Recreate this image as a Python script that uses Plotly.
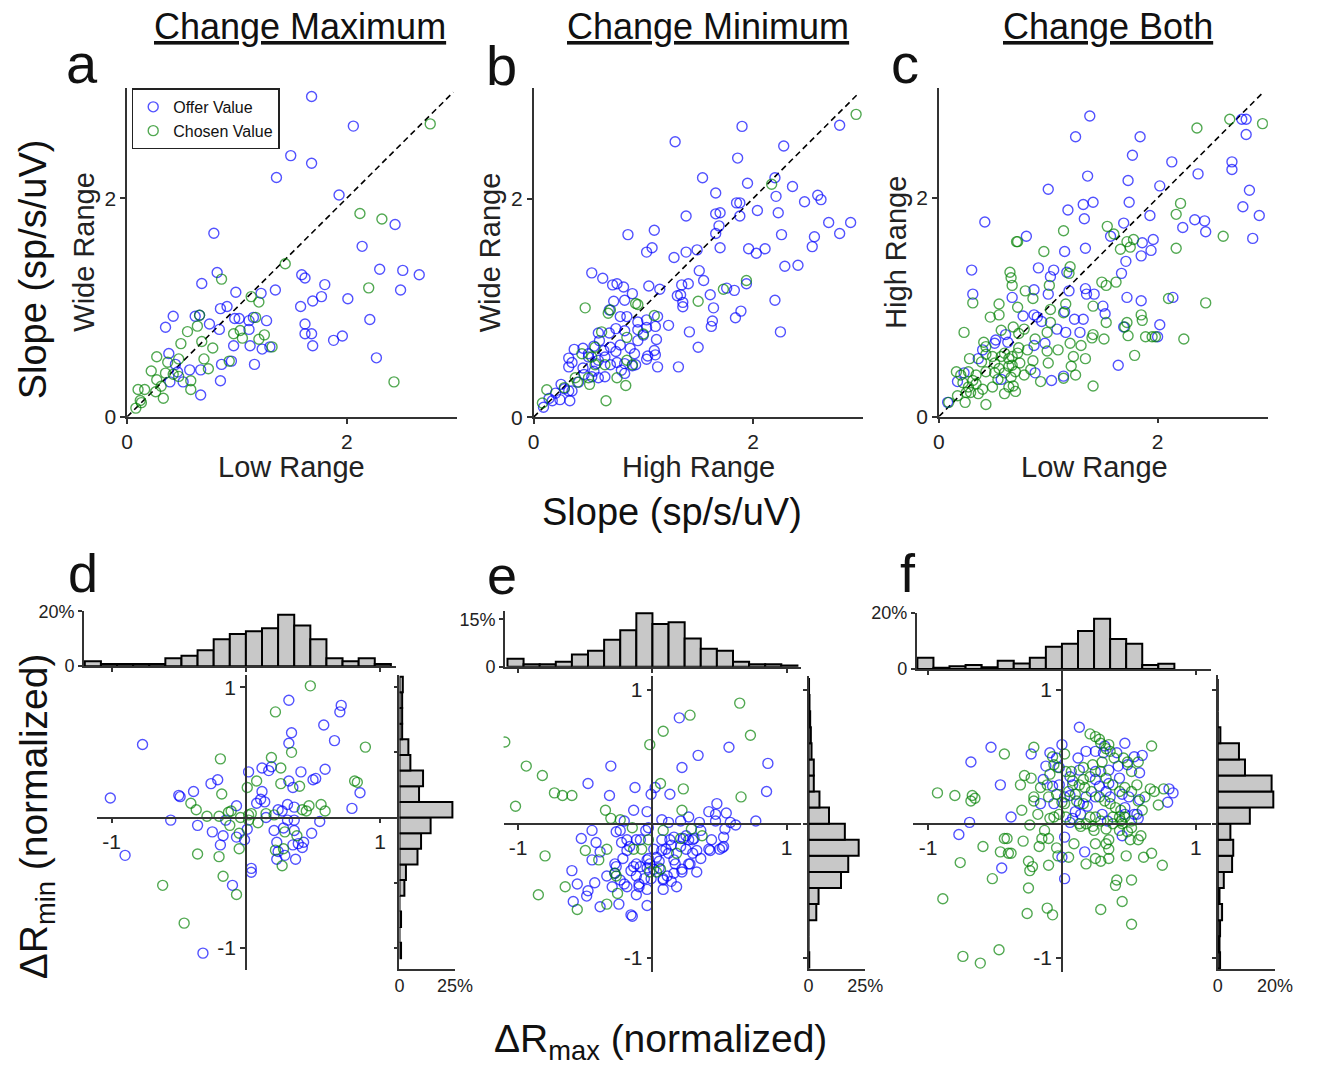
import plotly.graph_objects as go

# ---------------- DATA ----------------
# Panel a: Change Maximum (Low Range vs Wide Range)
a_offer_x = [1.68,2.06,1.49,1.68,1.36,1.93,2.44,2.14,0.79,2.30,2.51,2.66,1.59,1.62,1.80,1.35,2.49,1.77,1.69,2.01,
             1.58,2.21,1.62,1.62,1.68,1.69,1.88,1.96,2.27,0.82,0.68,0.99,1.22,0.91,0.85,0.42,0.62,0.66,0.98,1.02,
             1.15,1.11,1.27,0.75,0.84,1.11,0.35,0.97,1.12,1.23,1.30,0.38,0.44,0.57,0.67,0.86,0.95,1.16,0.39,0.51,
             0.85,0.67,0.46]
a_offer_y = [2.93,2.66,2.39,2.32,2.19,2.03,1.76,1.56,1.68,1.35,1.34,1.30,1.30,1.27,1.21,1.16,1.16,1.10,1.06,1.08,
             1.01,0.89,0.85,0.76,0.76,0.65,0.70,0.74,0.54,1.32,1.22,1.14,1.13,1.01,0.99,0.92,0.92,0.93,0.90,0.90,
             0.91,0.88,0.88,0.85,0.80,0.80,0.82,0.65,0.65,0.62,0.64,0.58,0.48,0.43,0.43,0.48,0.51,0.48,0.32,0.32,
             0.33,0.20,0.41]
a_chosen_x = [2.76,2.12,2.32,1.44,0.86,2.20,1.13,1.20,1.17,0.66,0.64,0.55,0.97,1.03,1.25,1.05,1.20,1.32,0.68,0.49,
              0.78,0.27,0.47,0.70,0.37,0.22,0.35,0.74,0.93,0.27,0.47,0.58,0.58,0.10,0.16,0.26,0.33,0.12,0.13,0.08,
              2.43,0.31,0.42]
a_chosen_y = [2.68,1.86,1.81,1.40,1.26,1.18,1.10,1.05,0.91,0.93,0.83,0.78,0.76,0.79,0.75,0.72,0.71,0.64,0.69,0.67,
              0.63,0.55,0.53,0.53,0.50,0.42,0.40,0.44,0.51,0.34,0.37,0.33,0.25,0.25,0.25,0.23,0.17,0.15,0.13,0.08,
              0.32,0.28,0.39]

# Panel b: Change Minimum (High Range vs Wide Range)
b_offer_x = [1.90,2.79,1.29,2.28,1.86,1.54,1.95,2.20,2.36,1.66,2.21,2.59,2.62,2.47,1.85,1.88,2.04,2.23,1.39,1.66,
             1.70,1.88,1.69,1.66,2.69,2.89,2.79,2.26,2.56,2.54,1.70,1.96,2.03,2.11,2.29,2.41,0.86,1.10,1.08,1.03,
             1.28,1.39,1.49,1.51,1.55,1.35,1.41,1.05,1.15,1.31,1.34,1.36,1.36,1.61,1.76,1.83,1.94,1.64,1.63,1.62,
             1.84,1.89,2.20,2.25,1.42,1.50,1.32,1.23,0.53,0.63,0.72,0.76,0.82,0.90,0.73,0.83,0.69,0.85,0.79,0.95,
             1.03,1.13,1.11,1.03,0.59,0.69,0.75,0.83,0.95,1.12,0.79,0.70,0.64,0.55,0.45,0.37,0.88,1.10,0.92,1.04,
             1.11,1.03,0.76,0.83,0.90,0.93,0.80,0.83,1.13,0.57,0.70,0.32,0.35,0.32,0.53,0.59,0.65,0.46,0.41,0.32,
             0.35,0.28,0.24,0.33,0.17,0.09,0.14,0.50,0.59,0.60,0.50,0.65,0.75,0.95,1.00,0.45,0.55,0.25,0.20]
b_offer_y = [2.66,2.67,2.52,2.48,2.37,2.19,2.14,2.19,2.11,2.05,2.02,2.03,1.99,1.97,1.96,1.96,1.89,1.87,1.84,1.86,
             1.87,1.84,1.75,1.68,1.78,1.78,1.68,1.67,1.65,1.56,1.55,1.54,1.50,1.54,1.38,1.39,1.67,1.71,1.55,1.51,
             1.46,1.51,1.53,1.34,1.25,1.21,1.22,1.20,1.17,1.11,1.12,1.05,1.01,1.12,1.18,1.16,1.22,1.00,0.88,0.83,
             0.91,0.97,1.07,0.78,0.78,0.64,0.46,0.84,1.32,1.27,1.21,1.22,1.19,1.13,1.06,1.07,0.98,0.92,0.92,0.87,
             0.89,0.92,0.83,0.82,0.77,0.77,0.81,0.79,0.80,0.71,0.66,0.64,0.61,0.65,0.63,0.62,0.63,0.61,0.58,0.56,
             0.57,0.53,0.50,0.49,0.47,0.48,0.43,0.40,0.46,0.49,0.48,0.54,0.50,0.46,0.37,0.36,0.37,0.39,0.32,0.24,
             0.24,0.26,0.16,0.15,0.15,0.09,0.17,0.55,0.52,0.70,0.58,0.55,0.60,0.70,0.75,0.45,0.42,0.30,0.22]
b_chosen_x = [2.94,2.17,1.94,1.73,1.50,0.47,0.68,0.70,0.93,0.95,1.10,1.00,0.62,0.85,0.56,0.44,0.53,0.56,0.65,0.85,
              0.76,0.84,0.51,0.50,0.40,0.28,0.12,0.08,0.66,0.90,0.38]
b_chosen_y = [2.77,2.13,1.25,1.17,1.06,1.00,0.95,0.98,1.04,1.03,0.93,0.76,0.78,0.73,0.64,0.58,0.55,0.48,0.48,0.52,
              0.36,0.29,0.30,0.36,0.32,0.27,0.25,0.13,0.15,0.48,0.36]

# Panel c: Change Both (Low Range vs High Range)
c_offer_x = [1.38,2.77,2.81,2.81,1.25,1.84,1.77,2.13,2.68,2.68,2.37,1.36,1.73,2.02,2.84,1.00,1.74,1.41,1.32,1.18,
             1.93,2.78,2.93,1.33,0.42,2.34,2.43,2.44,2.23,1.69,2.87,1.96,1.86,1.94,1.85,1.57,0.80,1.34,1.15,1.71,
             1.67,0.91,1.02,1.05,1.17,0.30,0.31,0.67,0.87,1.00,1.19,1.34,1.35,1.42,1.72,1.85,2.14,1.50,1.52,1.24,
             1.32,1.15,0.77,0.87,0.90,0.94,1.08,1.16,1.29,1.69,2.02,2.00,0.97,0.87,0.61,0.52,0.51,0.63,0.40,0.36,
             0.23,0.17,0.88,1.03,1.14,1.64,0.08,0.57]
c_offer_y = [2.75,2.72,2.72,2.58,2.56,2.56,2.39,2.33,2.33,2.26,2.22,2.20,2.16,2.11,2.07,2.08,1.96,1.96,1.94,1.89,
             1.84,1.92,1.84,1.81,1.78,1.80,1.79,1.69,1.73,1.77,1.63,1.62,1.59,1.52,1.47,1.65,1.65,1.54,1.51,1.42,
             1.31,1.36,1.28,1.34,1.32,1.34,1.12,1.09,1.16,1.12,1.15,1.17,1.12,1.12,1.09,1.06,1.09,1.01,0.94,0.89,
             0.89,0.96,0.92,0.93,0.91,0.87,0.80,0.77,0.77,0.82,0.84,0.73,0.67,0.65,0.75,0.70,0.67,0.68,0.61,0.53,
             0.40,0.32,0.40,0.33,0.37,0.47,0.13,0.34]
c_chosen_x = [2.66,2.96,2.36,2.21,2.17,1.54,1.60,1.14,0.71,0.72,0.96,2.17,2.60,1.72,1.78,1.75,1.66,1.20,1.19,0.65,
              0.66,0.67,1.01,1.49,1.53,1.62,0.79,0.86,0.31,0.55,0.72,1.16,1.41,2.10,2.44,0.55,0.47,1.02,1.14,1.53,
              1.85,1.86,1.72,1.02,0.23,0.57,0.68,0.78,0.99,1.09,1.20,1.30,1.40,1.41,1.51,1.73,1.70,1.89,1.95,1.98,
              2.24,1.79,0.41,0.43,0.43,0.28,0.39,0.49,0.60,0.64,0.67,0.73,0.74,0.86,0.99,1.00,1.23,1.21,1.34,1.25,
              1.41,0.93,1.14,0.16,0.20,0.27,0.34,0.43,0.51,0.55,0.64,0.67,0.70,0.78,0.84,0.22,0.27,0.34,0.40,0.49,
              0.60,0.68,0.70,0.24,0.36,0.43,0.09,0.17,0.29,0.54,0.60,0.66,0.51,0.57,0.72,0.81,0.73,0.88,0.31,0.25,
              0.64]
c_chosen_y = [2.72,2.68,2.64,1.95,1.85,1.74,1.67,1.70,1.60,1.60,1.51,1.54,1.65,1.60,1.62,1.55,1.53,1.37,1.31,1.32,
              1.27,1.20,1.20,1.23,1.20,1.23,1.15,1.08,1.04,1.03,1.00,1.03,1.01,1.08,1.04,0.93,0.91,0.98,0.95,0.86,
              0.93,0.88,0.86,0.86,0.77,0.79,0.82,0.80,0.77,0.61,0.67,0.65,0.72,0.75,0.71,0.74,0.82,0.73,0.73,0.73,
              0.71,0.56,0.68,0.64,0.57,0.53,0.50,0.55,0.58,0.53,0.55,0.63,0.49,0.51,0.60,0.49,0.55,0.46,0.53,0.38,
              0.28,0.32,0.35,0.41,0.38,0.41,0.38,0.41,0.40,0.44,0.46,0.47,0.41,0.38,0.43,0.31,0.27,0.30,0.25,0.27,
              0.21,0.28,0.23,0.13,0.21,0.11,0.13,0.19,0.22,0.34,0.40,0.36,0.49,0.55,0.58,0.61,0.76,0.71,0.33,0.22,
              0.27]

# Panel d: Change Maximum, dRmax vs dRmin (normalized)
d_offer_x = [-0.77,-1.01,-0.90,-0.56,-0.50,-0.49,-0.39,-0.26,-0.21,-0.36,-0.25,-0.19,-0.17,-0.15,-0.07,-0.07,-0.01,0.01,
             0.02,0.08,0.11,0.12,0.14,0.12,0.17,0.19,0.15,0.21,0.23,0.24,0.28,0.27,0.31,0.32,0.32,0.34,0.32,0.35,
             0.36,0.36,0.36,0.41,0.35,0.39,0.42,0.43,0.37,0.29,0.23,0.49,0.50,0.52,0.55,0.58,0.59,0.66,0.70,0.71,
             0.79,0.85,0.04,0.04,-0.10,-0.32,0.24,0.31]
d_offer_y = [0.56,0.15,-0.29,-0.02,0.17,0.16,0.20,0.26,0.29,-0.06,-0.11,-0.21,-0.14,-0.02,0.09,-0.15,-0.17,-0.09,
             0.35,0.11,0.14,0.20,0.12,0.38,0.36,0.39,0.00,-0.10,-0.19,0.06,-0.08,0.05,0.10,0.28,0.57,0.65,0.90,0.23,
             0.08,-0.02,-0.10,0.35,-0.21,-0.20,-0.23,-0.19,-0.32,-0.29,-0.32,-0.12,0.29,0.30,-0.03,0.71,0.37,0.59,
             0.81,0.86,0.07,0.19,-0.39,-0.42,-0.52,-1.04,-0.26,-0.02]
d_chosen_x = [0.48,0.22,0.89,0.34,0.19,-0.19,0.26,0.08,0.01,0.26,0.40,-0.18,0.81,0.83,-0.41,-0.37,-0.29,-0.20,-0.13,
              -0.11,-0.04,0.02,0.04,0.09,0.02,0.15,0.21,0.42,0.47,0.45,0.56,0.59,-0.12,-0.05,0.29,0.38,-0.05,-0.36,
              -0.20,0.22,0.28,0.27,-0.17,-0.07,-0.62,-0.46]
d_chosen_y = [1.01,0.81,0.54,0.50,0.46,0.45,0.38,0.28,0.23,0.26,0.24,0.18,0.28,0.27,0.11,0.06,0.01,0.01,0.04,0.05,
              0.00,0.02,0.03,-0.04,-0.02,0.03,0.02,0.06,0.09,0.05,0.10,0.05,-0.06,-0.12,-0.11,-0.14,-0.24,-0.28,
              -0.30,-0.25,-0.24,-0.37,-0.45,-0.59,-0.52,-0.81]

# Panel e: Change Minimum
e_offer_x = [0.20,0.57,0.34,0.22,0.86,0.85,-0.31,-0.48,-0.13,-0.32,-0.01,0.02,0.13,-0.14,-0.04,0.48,0.42,0.47,0.55,
             0.77,0.62,0.58,0.47,0.35,0.27,0.21,0.12,0.07,-0.21,-0.05,-0.03,0.54,0.53,0.53,0.50,0.43,0.44,0.36,0.30,
             0.27,0.23,0.30,0.27,0.33,0.22,0.16,0.18,0.08,0.08,0.16,0.14,0.12,0.07,0.01,-0.04,-0.02,0.05,-0.09,-0.14,
             -0.12,-0.06,-0.04,-0.10,-0.19,-0.12,-0.04,-0.16,-0.15,-0.25,-0.39,-0.59,-0.49,-0.48,-0.56,-0.43,-0.60,
             -0.45,-0.39,-0.42,-0.53,-0.45,-0.27,-0.23,-0.24,-0.19,-0.22,-0.28,-0.27,-0.28,-0.34,-0.24,-0.30,-0.21,
             -0.16,-0.12,0.01,0.08,0.14,0.22,0.28,0.33,0.42,0.52,0.36,0.25,0.21,0.16,0.13,0.10,-0.04,-0.03,0.03,
             -0.09,-0.12,-0.17,-0.19,0.07,0.25,0.31,0.05,0.17,0.11,-0.10,-0.01]
e_offer_y = [0.79,0.57,0.51,0.42,0.45,0.24,0.43,0.30,0.27,0.21,0.22,0.27,0.22,0.10,0.09,0.15,0.09,0.07,0.08,0.02,
             -0.01,0.01,0.02,0.01,0.05,0.02,0.01,0.03,0.02,-0.05,-0.03,-0.04,-0.10,-0.17,-0.19,-0.20,-0.12,-0.05,
             -0.12,-0.12,-0.11,-0.22,-0.30,-0.36,-0.36,-0.37,-0.47,-0.49,-0.41,-0.27,-0.16,-0.22,-0.20,-0.19,-0.27,
             -0.30,-0.28,-0.32,-0.32,-0.39,-0.41,-0.49,-0.47,-0.47,-0.53,-0.61,-0.68,-0.69,-0.60,-0.62,-0.58,-0.54,
             -0.50,-0.45,-0.44,-0.35,-0.27,-0.21,-0.14,-0.11,-0.05,-0.06,-0.14,-0.05,-0.20,-0.26,-0.30,-0.32,-0.37,
             -0.39,-0.42,-0.47,-0.45,-0.35,-0.30,-0.34,-0.42,-0.43,-0.34,-0.30,-0.20,-0.19,-0.18,-0.26,-0.19,-0.17,
             -0.10,-0.12,-0.19,-0.33,-0.26,-0.25,-0.12,-0.12,-0.17,-0.12,-0.12,-0.09,-0.11,-0.33,-0.30,-0.39,-0.45,
             -0.41]
e_chosen_x = [-1.10,-0.94,-0.82,-1.02,-0.73,-0.67,-0.60,-0.35,-0.31,-0.24,-0.15,-0.02,0.08,0.28,0.65,0.73,0.66,0.23,
              0.06,0.22,0.29,0.37,0.21,0.08,-0.03,-0.08,-0.14,-0.34,-0.50,-0.40,-0.80,0.06,0.03,0.18,-0.28,-0.27,
              -0.26,-0.65,-0.85,-0.56,-0.34,-0.02]
e_chosen_y = [0.61,0.43,0.36,0.13,0.23,0.21,0.21,0.10,0.04,0.03,-0.03,0.59,0.69,0.81,0.90,0.66,0.20,0.26,0.30,0.10,
              -0.04,-0.09,-0.11,-0.05,-0.12,-0.19,-0.19,-0.19,-0.20,-0.27,-0.24,-0.34,-0.36,-0.22,-0.37,-0.39,-0.52,
              -0.47,-0.53,-0.64,-0.60,-0.36]

# Panel f: Change Both
f_offer_x = [0.13,-0.53,-0.68,-0.23,-0.09,0.00,-0.04,-0.12,-0.02,0.06,0.12,0.18,0.25,0.32,0.31,0.41,0.47,0.54,0.60,
             0.49,0.58,0.25,0.35,0.42,0.13,-0.14,-0.46,-0.16,-0.38,-0.69,-0.77,-0.45,0.02,0.00,0.02,0.17,0.45,-0.06,
             0.08,0.13,0.18,0.28,0.33,0.25,0.45,0.50,0.58,0.56,0.54,0.57,0.80,0.83,0.79,0.34,0.30,0.19,0.08,0.06,
             0.25,0.35,0.43,0.02,-0.02,-0.07,0.10,0.14,0.47,0.47,0.36,0.06]
f_offer_y = [0.72,0.57,0.46,0.52,0.53,0.59,0.49,0.43,0.42,0.35,0.49,0.54,0.54,0.58,0.53,0.53,0.60,0.50,0.51,0.44,
             0.38,0.39,0.40,0.43,0.40,0.33,0.29,0.15,0.05,0.01,-0.08,-0.33,-0.10,-0.25,-0.41,-0.21,-0.09,0.15,0.04,
             0.15,0.20,0.28,0.24,0.20,0.22,0.20,0.18,0.07,0.07,0.04,0.26,0.23,0.16,0.02,0.07,0.13,0.29,0.21,0.33,
             0.30,0.34,0.20,0.29,0.28,0.09,0.07,0.07,0.12,0.20,0.01]
f_chosen_x = [0.67,0.21,0.25,0.35,0.29,-0.21,-0.43,0.02,-0.07,-0.03,-0.28,-0.23,-0.31,-0.93,-0.80,-0.67,-0.68,-0.65,
              0.66,0.69,0.76,0.72,-0.21,-0.30,-0.18,-0.09,-0.06,-0.24,-0.13,-0.15,-0.10,-0.29,-0.43,-0.41,-0.59,
              -0.46,-0.40,-0.38,-0.17,-0.04,0.09,0.25,0.33,0.35,0.35,0.43,0.51,0.57,0.59,0.52,0.24,0.14,0.33,0.48,
              0.61,0.67,0.75,0.25,0.29,0.35,0.18,0.05,-0.03,-0.10,-0.25,-0.22,-0.24,-0.76,-0.52,-0.25,-0.89,-0.26,
              -0.11,-0.07,0.29,0.45,0.40,0.41,0.52,0.52,-0.74,-0.61,-0.47,
              0.08,0.13,0.17,0.22,0.28,0.32,0.36,0.40,0.44,0.47,0.52,0.43,0.38,0.29,0.25,0.21,0.16,0.11,0.05,0.07,
              0.16,0.23,0.30,0.39,0.46,0.49,0.52,0.56,0.52,0.47,0.43,0.38,0.33,0.29,0.21,0.16,0.10,0.02,-0.02,0.03,
              0.13,0.18,0.23,0.38,0.45,0.49,0.44,0.57,0.60,0.62,-0.09,-0.11,-0.04,-0.10,-0.16,-0.21,0.00,0.03,-0.06,
              0.28,0.33,0.36,0.57]
f_chosen_y = [0.58,0.67,0.65,0.59,0.60,0.57,0.52,0.52,0.50,0.42,0.36,0.34,0.29,0.23,0.21,0.21,0.17,0.19,0.26,0.24,
              0.26,0.14,0.17,0.10,0.07,0.04,0.05,-0.01,-0.05,-0.11,-0.11,-0.13,-0.11,-0.11,-0.17,-0.21,-0.22,-0.22,
              -0.17,-0.18,-0.15,-0.15,-0.15,-0.19,-0.12,-0.05,-0.12,-0.12,-0.09,-0.03,-0.05,-0.02,-0.04,-0.24,-0.25,
              -0.22,-0.31,-0.26,-0.28,-0.26,-0.30,-0.25,-0.24,-0.31,-0.28,-0.32,-0.35,-0.29,-0.41,-0.48,-0.56,-0.67,
              -0.63,-0.68,-0.64,-0.58,-0.46,-0.42,-0.42,-0.75,-0.99,-1.04,-0.94,
              0.32,0.29,0.27,0.24,0.20,0.17,0.15,0.12,0.10,0.05,0.02,0.05,0.05,0.02,0.05,0.05,0.15,0.17,0.24,0.39,
              0.42,0.44,0.46,0.49,0.49,0.46,0.39,0.29,0.24,0.27,0.24,0.29,0.34,0.39,0.35,0.33,0.22,0.15,0.07,0.05,
              0.00,0.00,-0.02,0.00,0.00,-0.06,0.02,0.17,0.10,0.20,0.37,0.29,0.22,0.20,0.27,0.20,0.16,0.39,0.44,
              0.63,0.56,0.54,0.46]

# Marginal histograms (percent of neurons), bin width 0.12 (normalized units)
hist_bin = 0.12
d_top_start = -1.20
d_top_pct = [1.8,0.8,0.8,0.8,0.8,2.9,3.8,5.8,9.8,11.7,12.7,13.8,18.7,14.8,9.8,2.9,1.8,2.9,0.8]
d_right_start = -1.08
d_right_pct = [0.7,0,0.7,0,2.2,2.9,8.1,9.7,14.0,23.8,8.8,10.6,4.9,4.0,1.2,1.2,1.2,1.5]
e_top_start = -1.08
e_top_pct = [2.6,0.8,0.8,1.6,3.9,5.1,8.6,11.6,17.0,13.6,14.1,9.0,5.7,5.1,1.6,0.8,0.8,0.4]
e_right_start = -1.08
e_right_pct = [0.3,0,0,3.4,4.4,14.3,17.5,22.1,16.0,9.0,4.8,2.3,2.3,1.3,1.0,0.7,0.4,0.2]
f_top_start = -1.08
f_top_pct = [4.0,0.5,1.0,1.5,0.7,3.0,2.0,4.0,8.0,9.0,13.6,17.9,10.7,9.0,1.5,1.9]
f_right_start = -1.08
f_right_pct = [0.8,0.6,0.8,1.5,0.6,2.1,5.0,5.4,4.4,11.2,19.4,18.8,9.5,7.4,0.9,0,0,0]

titles = ["Change Maximum", "Change Minimum", "Change Both"]
top_xlabels = ["Low Range", "High Range", "Low Range"]
top_ylabels = ["Wide Range", "Wide Range", "High Range"]
legend_names = ["Offer Value", "Chosen Value"]

# ---------------- STYLE / LAYOUT ----------------
W, H = 1333, 1070
FONT = "Liberation Sans, Arial, Helvetica, sans-serif"
AX = "#333333"
BLUE = "rgba(0,0,255,0.68)"
GREEN = "rgba(0,128,0,0.68)"
HFILL = "#c8c8c8"
MSIZE = 10


def fx(p):
    return p / W


def fy(p):
    return 1 - p / H


def base_axis(**kw):
    d = dict(showline=True, linecolor=AX, linewidth=1.6, ticks="outside", ticklen=5,
             tickwidth=1.5, tickcolor=AX, showgrid=False, zeroline=False,
             tickfont=dict(size=21, color="#222", family=FONT))
    d.update(kw)
    return d


fig = go.Figure()
layout = dict(width=W, height=H, margin=dict(l=0, r=0, t=0, b=0),
              paper_bgcolor="white", plot_bgcolor="rgba(0,0,0,0)",
              font=dict(family=FONT, color="#222"), showlegend=True,
              barmode="overlay")

# top row panels: (y-axis px, x-axis px, px at x=2, right px)
top_geo = [(123.3, 415.0, 347.0, 459.0),
           (537.3, 415.3, 760.7, 873.0),
           (950.0, 414.7, 1172.7, 1285.0)]
top_data = [(a_offer_x, a_offer_y, a_chosen_x, a_chosen_y),
            (b_offer_x, b_offer_y, b_chosen_x, b_chosen_y),
            (c_offer_x, c_offer_y, c_chosen_x, c_chosen_y)]
for i, ((x0p, y0p, x2p, x1p), (ox, oy, cx_, cy_)) in enumerate(zip(top_geo, top_data)):
    n = i + 1
    ux = (x2p - x0p) / 2
    uy = 111.5
    top_px = 80.0
    layout[f"xaxis{n}"] = base_axis(domain=[fx(x0p), fx(x1p)], range=[0, (x1p - x0p) / ux],
                                     anchor=f"y{n}", tickvals=[0, 2])
    layout[f"yaxis{n}"] = base_axis(domain=[fy(y0p), fy(top_px)], range=[0, (y0p - top_px) / uy],
                                     anchor=f"x{n}", tickvals=[0, 2])
    xs = "x" if n == 1 else f"x{n}"
    ys = "y" if n == 1 else f"y{n}"
    fig.add_trace(go.Scatter(x=[0, 2.97], y=[0, 2.97], mode="lines", xaxis=xs, yaxis=ys,
                             line=dict(color="black", width=1.6, dash="6px,4px"), showlegend=False,
                             hoverinfo="skip"))
    fig.add_trace(go.Scatter(x=ox, y=oy, mode="markers", xaxis=xs, yaxis=ys,
                             name=legend_names[0], showlegend=(n == 1),
                             marker=dict(symbol="circle-open", size=MSIZE, color=BLUE, line=dict(width=1.4))))
    fig.add_trace(go.Scatter(x=cx_, y=cy_, mode="markers", xaxis=xs, yaxis=ys,
                             name=legend_names[1], showlegend=(n == 1),
                             marker=dict(symbol="circle-open", size=MSIZE, color=GREEN, line=dict(width=1.4))))

# bottom row panels geometry (pixels)
bot_geo = [
    dict(cx=244.3, cy=823.7, ux=136.7, uy=133.0, mx=(93, 397), my=(678, 979),
         tx=(79.3, 397), ty=(613.3, 669.3), tmax=20, ttick=20,
         rx=(400.7, 457.3), ry=(678, 977.7), rmax=25, rticks=[-1, -0.5, 0, 0.5, 1]),
    dict(cx=658.3, cy=830.0, ux=136.7, uy=136.7, mx=(506.7, 810), my=(679.3, 981.7),
         tx=(508, 810), ty=(613, 670), tmax=15 * 57 / 48.3, ttick=15,
         rx=(817.3, 875), ry=(679, 977.7), rmax=25, rticks=[-1, 0, 1]),
    dict(cx=1075.3, cy=830.0, ux=136.3, uy=136.7, mx=(924, 1226.7), my=(678.3, 981.7),
         tx=(927.3, 1226.7), ty=(615, 672.3), tmax=20, ttick=20,
         rx=(1234, 1292.3), ry=(678, 978.3), rmax=20, rticks=[-1, 0, 1]),
]
bot_data = [(d_offer_x, d_offer_y, d_chosen_x, d_chosen_y),
            (e_offer_x, e_offer_y, e_chosen_x, e_chosen_y),
            (f_offer_x, f_offer_y, f_chosen_x, f_chosen_y)]
hists = [(d_top_start, d_top_pct, d_right_start, d_right_pct),
         (e_top_start, e_top_pct, e_right_start, e_right_pct),
         (f_top_start, f_top_pct, f_right_start, f_right_pct)]

HFONT = dict(size=18, color="#222", family=FONT)
for i, (g, (ox, oy, cx_, cy_), (ts, tp, rs, rp)) in enumerate(zip(bot_geo, bot_data, hists)):
    m, t, r = 4 + i, 7 + i, 10 + i
    cx, cy, ux, uy = g["cx"], g["cy"], g["ux"], g["uy"]
    # main scatter with axes crossing at 0
    layout[f"xaxis{m}"] = base_axis(domain=[fx(g["mx"][0]), fx(g["mx"][1])],
                                     range=[(g["mx"][0] - cx) / ux, (g["mx"][1] - cx) / ux],
                                     anchor="free", position=fy(cy),
                                     tickvals=[-1, 1], ticktext=["-1", "1"])
    layout[f"yaxis{m}"] = base_axis(domain=[fy(g["my"][1]), fy(g["my"][0])],
                                     range=[(cy - g["my"][1]) / uy, (cy - g["my"][0]) / uy],
                                     anchor="free", position=fx(cx),
                                     tickvals=[-1, 1], ticktext=["-1", "1"])
    fig.add_trace(go.Scatter(x=ox, y=oy, mode="markers", xaxis=f"x{m}", yaxis=f"y{m}", showlegend=False,
                             marker=dict(symbol="circle-open", size=MSIZE, color=BLUE, line=dict(width=1.4))))
    fig.add_trace(go.Scatter(x=cx_, y=cy_, mode="markers", xaxis=f"x{m}", yaxis=f"y{m}", showlegend=False,
                             marker=dict(symbol="circle-open", size=MSIZE, color=GREEN, line=dict(width=1.4))))
    # top histogram
    layout[f"xaxis{t}"] = base_axis(domain=[fx(g["tx"][0]), fx(g["tx"][1])],
                                     range=[(g["tx"][0] - cx) / ux, (g["tx"][1] - cx) / ux],
                                     anchor=f"y{t}", tickvals=[-1, 0, 1], showticklabels=False, ticklen=4)
    layout[f"yaxis{t}"] = base_axis(domain=[fy(g["ty"][1]), fy(g["ty"][0])], range=[0, g["tmax"]],
                                     anchor=f"x{t}", tickvals=[0, g["ttick"]],
                                     ticktext=["0", f"{g['ttick']}%"], ticklen=4, tickfont=HFONT)
    tcent = [ts + hist_bin * (k + 0.5) for k in range(len(tp))]
    fig.add_trace(go.Bar(x=tcent, y=tp, width=hist_bin, xaxis=f"x{t}", yaxis=f"y{t}", showlegend=False,
                         marker=dict(color=HFILL, line=dict(color="black", width=2))))
    # right histogram
    layout[f"xaxis{r}"] = base_axis(domain=[fx(g["rx"][0]), fx(g["rx"][1])], range=[0, g["rmax"]],
                                     anchor=f"y{r}", tickvals=[0, g["rmax"]],
                                     ticktext=["0", f"{g['rmax']}%"], ticks="inside", ticklen=4,
                                     tickfont=HFONT)
    layout[f"yaxis{r}"] = base_axis(domain=[fy(g["ry"][1]), fy(g["ry"][0])],
                                     range=[(cy - g["ry"][1]) / uy, (cy - g["ry"][0]) / uy],
                                     anchor=f"x{r}", tickvals=g["rticks"], showticklabels=False, ticklen=4)
    rcent = [rs + hist_bin * (k + 0.5) for k in range(len(rp))]
    fig.add_trace(go.Bar(y=rcent, x=rp, width=hist_bin, orientation="h", xaxis=f"x{r}", yaxis=f"y{r}",
                         showlegend=False, marker=dict(color=HFILL, line=dict(color="black", width=2))))

# ---------------- TEXT ----------------
ann = []


def add_text(text, x, y, size, angle=0, color="#111"):
    ann.append(dict(text=text, x=fx(x), y=fy(y), xref="paper", yref="paper", showarrow=False,
                    xanchor="center", yanchor="middle", textangle=angle,
                    font=dict(size=size, color=color, family=FONT)))


for title, xc in zip(titles, [299, 715, 1122]):
    add_text(f"<u>{title}</u>", xc, 17, 36)
for letter, (x, y, s) in zip("abcdef", [(77, 55, 56), (505, 57, 56), (915, 55, 56),
                                        (78, 574, 54), (505, 576, 54), (919, 574, 54)]):
    add_text(letter, x, y, s)
for lab, xc in zip(top_xlabels, [291, 705, 1108]):
    add_text(lab, xc, 466, 29, color="#222")
for lab, xc in zip(top_ylabels, [80, 493, 906]):
    add_text(lab, xc, 247, 29, angle=-90, color="#222")
add_text("Slope (sp/s/uV)", 27, 265, 38, angle=-90)
add_text("Slope (sp/s/uV)", 678, 512, 38)
add_text("ΔR<sub>min</sub> (normalized)", 31, 822, 39, angle=-90)
add_text("ΔR<sub>max</sub> (normalized)", 666, 1052, 39)

layout["annotations"] = ann
layout["legend"] = dict(x=fx(128), y=fy(80), xanchor="left", yanchor="top", bgcolor="white",
                        bordercolor="#222", borderwidth=1.5, font=dict(size=16, color="#111", family=FONT),
                        itemwidth=30, tracegroupgap=0)
fig.update_layout(**layout)
fig.write_html("out.html")
